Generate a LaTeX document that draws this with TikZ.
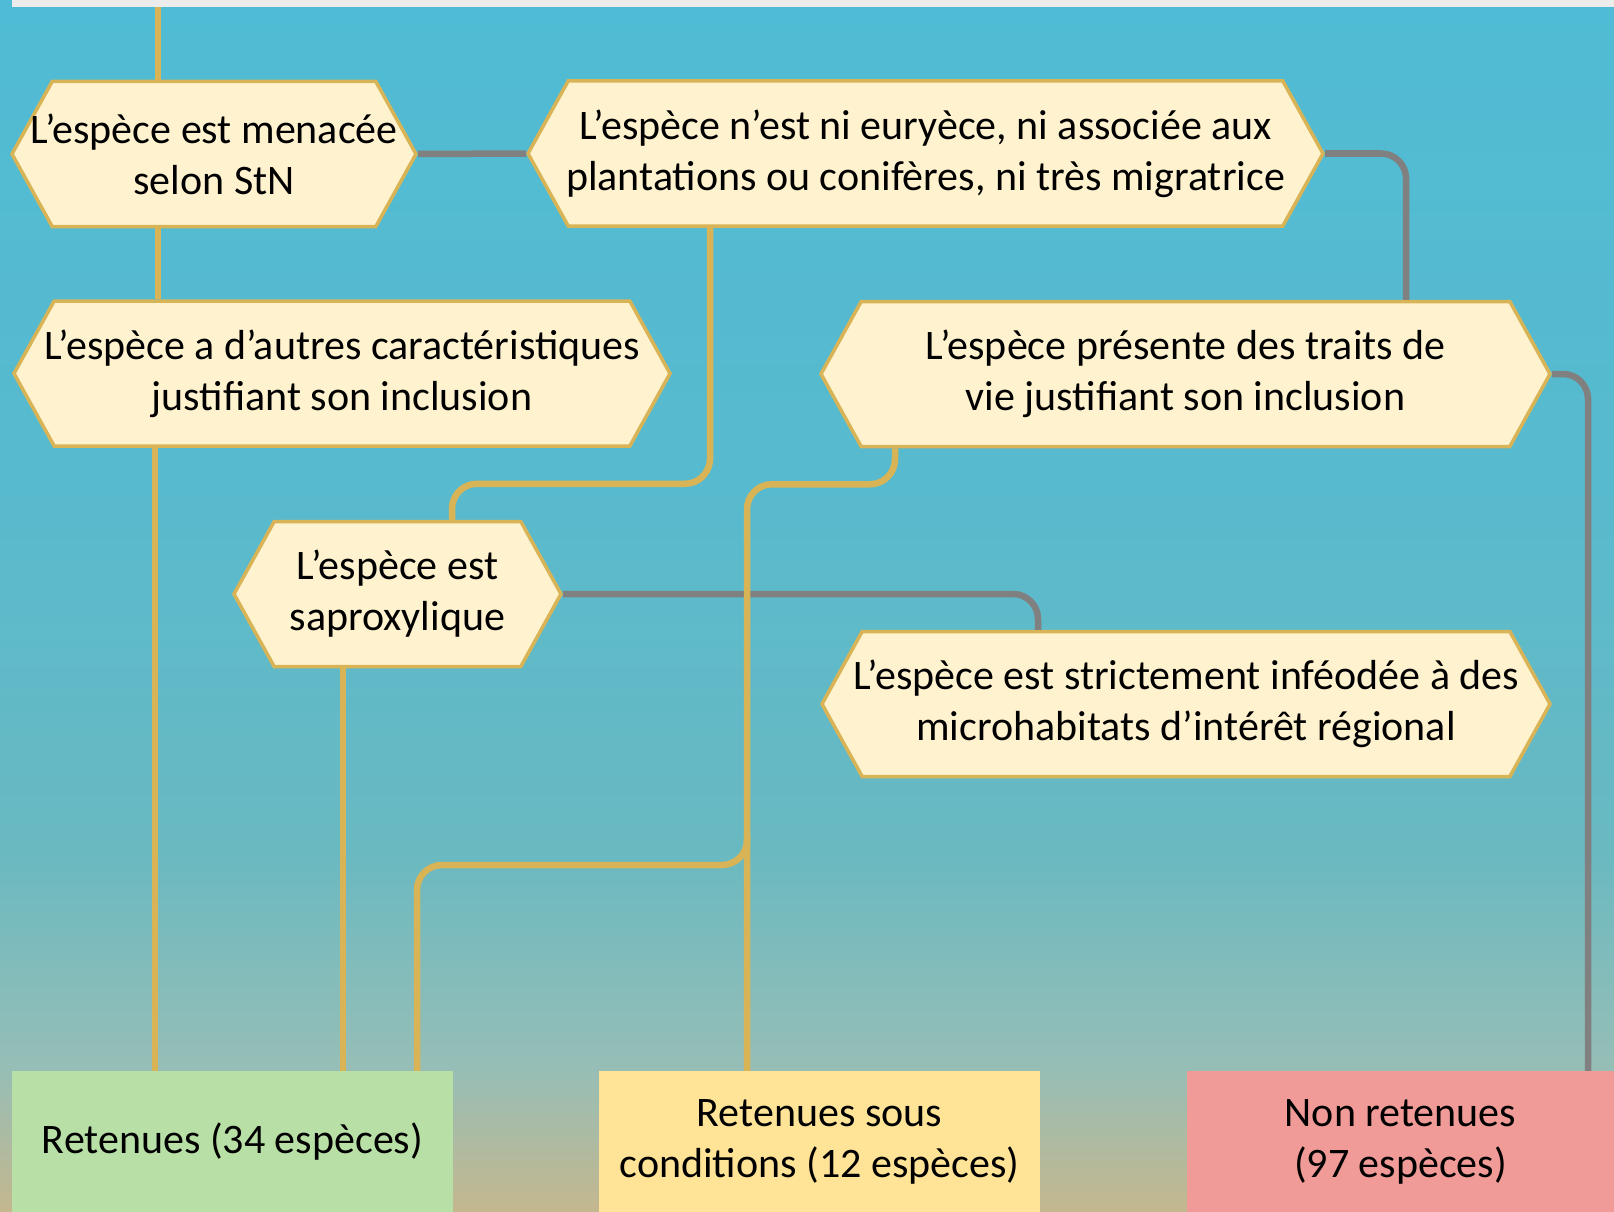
\documentclass[tikz,border=0pt]{standalone}
\usepackage{fontspec}
\setmainfont{Carlito}
\usetikzlibrary{shapes.symbols}

\definecolor{fondhaut}{RGB}{80,187,212}
\definecolor{fondmilieu}{RGB}{88,186,206}
\definecolor{fondvert}{RGB}{105,185,193}
\definecolor{fondsable}{RGB}{150,190,182}
\definecolor{fondbas}{RGB}{196,183,142}
\definecolor{bandeau}{RGB}{236,236,236}
\definecolor{hexfond}{RGB}{255,242,207}
\definecolor{orfil}{RGB}{216,180,86}
\definecolor{grisfil}{RGB}{128,128,128}
\definecolor{vertboite}{RGB}{184,224,166}
\definecolor{jauneboite}{RGB}{255,228,151}
\definecolor{rougeboite}{RGB}{240,155,151}

\pgfdeclareverticalshading{fond}{100bp}{color(0bp)=(fondbas); color(25bp)=(fondbas);
  color(31bp)=(fondsable); color(40bp)=(fondvert); color(55bp)=(fondmilieu);
  color(75bp)=(fondhaut); color(100bp)=(fondhaut)}

\newcommand{\boitefont}{\fontsize{42}{51}\selectfont}

\begin{document}
\begin{tikzpicture}[x=1pt, y=-1pt,
    hexa/.style={signal, signal to=west and east, signal pointer angle=122,
      draw=orfil, fill=hexfond, line width=3.5pt, inner xsep=-60pt, inner ysep=0pt,
      minimum height=145pt, align=center, font=\boitefont},
    boite/.style={rectangle, inner sep=0pt, minimum height=141pt, align=center, font=\boitefont},
    filor/.style={draw=orfil, line width=6.5pt, rounded corners=25pt},
    filgris/.style={draw=grisfil, line width=6.5pt, rounded corners=25pt}]
		\useasboundingbox (0,0) rectangle (1614,1212);
		\shade[shading=fond] (0,0) rectangle (1614,1212);
		\fill[bandeau] (12,0) rectangle (1614,7);

		% questions
		\node[hexa, minimum width=404pt] (menace) at (214,154) {L’espèce est menacée\\selon StN};
		\node[hexa, minimum width=795pt] (eury) at (925.5,153.5) {L’espèce n’est ni euryèce, ni associée aux\\plantations ou conifères, ni très migratrice};
		\node[hexa, minimum width=656pt] (autres) at (342,373.5) {L’espèce a d’autres caractéristiques\\justifiant son inclusion};
		\node[hexa, minimum width=729pt] (traits) at (1185.5,374) {L’espèce présente des traits de\\vie justifiant son inclusion};
		\node[hexa, minimum width=327pt] (saprox) at (397.5,594) {L’espèce est\\saproxylique};
		\node[hexa, minimum width=728pt] (strict) at (1186,704) {L’espèce est strictement inféodée à des\\microhabitats d’intérêt régional};

		% resultats
		\node[boite, fill=vertboite, minimum width=441pt] (retenues) at (232.5,1141.5) {Retenues (34 espèces)};
		\node[boite, fill=jauneboite, minimum width=441pt] (conditions) at (819.5,1141.5) {Retenues sous\\conditions (12 espèces)};
		\node[boite, fill=rougeboite, minimum width=427pt] (nonret) at (1400.5,1141.5) {Non retenues\\(97 espèces)};

		% non
		\draw[filgris] (menace.east) -- (eury.west);
		\draw[filgris] (eury.east) -| ([xshift=220.5pt]traits.north);
		\draw[filgris] (traits.east) -| ([xshift=187.5pt]nonret.north);
		\draw[filgris] (saprox.east) -| ([xshift=-148pt]strict.north);

		% oui
		\coordinate (entree) at (158,7);
		\coordinate (fourche) at (747,835);
		\draw[filor] (entree) -- (entree |- menace.north);
		\draw[filor] ([xshift=-56pt]menace.south) -- ([xshift=-56pt]menace.south |- autres.north);
		\draw[filor] ([xshift=-187pt]autres.south) -- ([xshift=-187pt]autres.south |- retenues.north);
		\draw[filor] ([xshift=-215.5pt]eury.south) -- ++(0,256) -| ([xshift=54.5pt]saprox.north);
		\draw[filor] ([xshift=-54.5pt]saprox.south) -- ([xshift=-54.5pt]saprox.south |- retenues.north);
		\draw[filor] ([xshift=-290.5pt]traits.south) -- ++(0,36) -| ([xshift=-72.5pt]conditions.north);
		\draw[filor] (fourche) -- ++(0,30) -| ([xshift=184.5pt]retenues.north);

	\end{tikzpicture}
\end{document}
